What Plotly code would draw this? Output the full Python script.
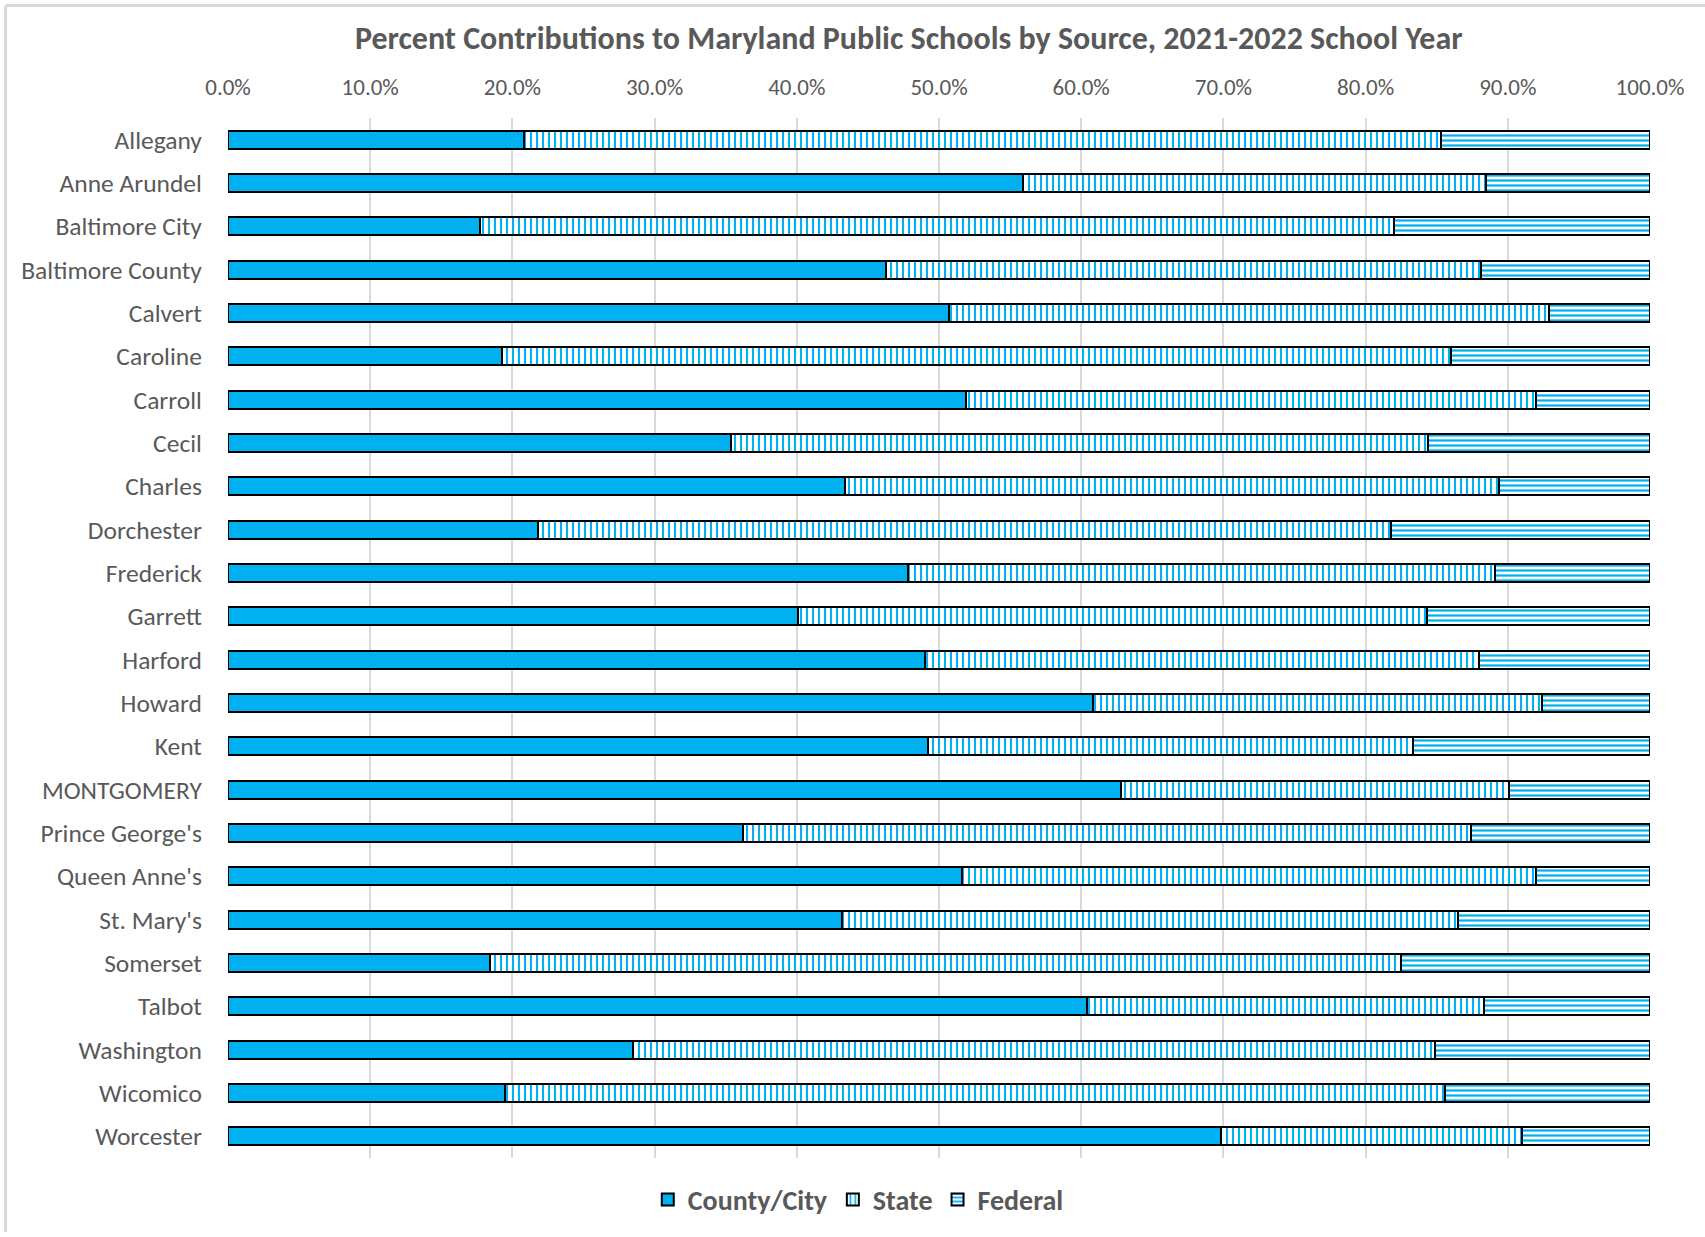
import plotly.graph_objects as go

districts = ["Allegany", "Anne Arundel", "Baltimore City", "Baltimore County", "Calvert",
             "Caroline", "Carroll", "Cecil", "Charles", "Dorchester", "Frederick",
             "Garrett", "Harford", "Howard", "Kent", "MONTGOMERY", "Prince George's",
             "Queen Anne's", "St. Mary's", "Somerset", "Talbot", "Washington",
             "Wicomico", "Worcester"]
county_city = [20.8, 55.9, 17.7, 46.3, 50.7, 19.3, 51.9, 35.4, 43.4, 21.8, 47.8,
               40.1, 49.0, 60.8, 49.2, 62.8, 36.2, 51.6, 43.2, 18.4, 60.4, 28.5,
               19.5, 69.8]
state = [64.5, 32.6, 64.3, 41.8, 42.2, 66.7, 40.1, 49.0, 46.0, 60.0, 41.3,
         44.2, 39.0, 31.6, 34.1, 27.3, 51.2, 40.4, 43.3, 64.1, 27.9, 56.4,
         66.1, 21.2]
federal = [14.7, 11.5, 18.0, 11.9, 7.1, 14.0, 8.0, 15.6, 10.6, 18.2, 10.9,
           15.7, 12.0, 7.6, 16.7, 9.9, 12.6, 8.0, 13.5, 17.5, 11.7, 15.1,
           14.4, 9.0]
tick_vals = [0, 10, 20, 30, 40, 50, 60, 70, 80, 90, 100]
tick_labels = ["0.0%", "10.0%", "20.0%", "30.0%", "40.0%", "50.0%",
               "60.0%", "70.0%", "80.0%", "90.0%", "100.0%"]

BLUE = "#00B0F0"
TXT = "#595959"
FONT = "Carlito, Lato, 'Open Sans', sans-serif"

fig = go.Figure()
fig.add_trace(go.Bar(
    name="County/City", y=districts, x=county_city, orientation="h",
    marker=dict(color=BLUE, line=dict(color="black", width=2)),
))
fig.add_trace(go.Bar(
    name="State", y=districts, x=state, orientation="h",
    marker=dict(color="white", line=dict(color="black", width=2),
                pattern=dict(shape="|", fgcolor=BLUE, bgcolor="white",
                             size=6, solidity=0.35, fillmode="replace")),
))
fig.add_trace(go.Bar(
    name="Federal", y=districts, x=federal, orientation="h",
    marker=dict(color="white", line=dict(color="black", width=2),
                pattern=dict(shape="-", fgcolor=BLUE, bgcolor="white",
                             size=5, solidity=0.45, fillmode="replace")),
))

W, H = 1705, 1237
L, R, T, B = 227.5, 55, 118, 74.5
pw, ph = W - L - R, H - T - B

fig.update_layout(
    width=W, height=H,
    margin=dict(l=L, r=R, t=T, b=B),
    barmode="stack", bargap=0.585,
    paper_bgcolor="white", plot_bgcolor="white",
    font=dict(family=FONT, color=TXT, size=24),
    title=dict(text="<b>Percent Contributions to Maryland Public Schools by Source, 2021-2022 School Year</b>",
               x=(L + pw / 2 - 30) / W, xanchor="center", y=1 - 38 / H, yanchor="middle",
               font=dict(size=32, color=TXT, family=FONT)),
    xaxis=dict(side="top", range=[0, 100], tickmode="array", tickvals=tick_vals,
               ticktext=tick_labels, showgrid=True,
               gridcolor="#D9D9D9", gridwidth=2, zeroline=False,
               showline=False, ticks="outside", ticklen=13, tickcolor="rgba(0,0,0,0)",
               tickfont=dict(size=23, color=TXT)),
    yaxis=dict(autorange="reversed", showgrid=False, ticks="outside", ticklen=20,
               tickcolor="rgba(0,0,0,0)", tickfont=dict(size=25.5, color=TXT),
               showline=False),
    legend=dict(orientation="h", x=(858 - L) / pw, xanchor="center",
                y=-42 / ph, yanchor="middle",
                font=dict(size=28, color=TXT, family=FONT), traceorder="normal",
                itemwidth=30),
    showlegend=True,
)
fig.for_each_trace(lambda t: t.update(name="<b>" + t.name + "</b>"))

# chart frame (gray border lines on top and left)
x_left = (5 - L) / pw
x_right = (W - L) / pw
y_top = (H - B - 5) / ph
y_bot = -B / ph
fig.add_shape(type="line", xref="paper", yref="paper", x0=x_left, x1=x_right,
              y0=y_top, y1=y_top, line=dict(color="#D9D9D9", width=3))
fig.add_shape(type="line", xref="paper", yref="paper", x0=x_left, x1=x_left,
              y0=y_top, y1=y_bot, line=dict(color="#D9D9D9", width=3))

fig.write_html("out.html")
